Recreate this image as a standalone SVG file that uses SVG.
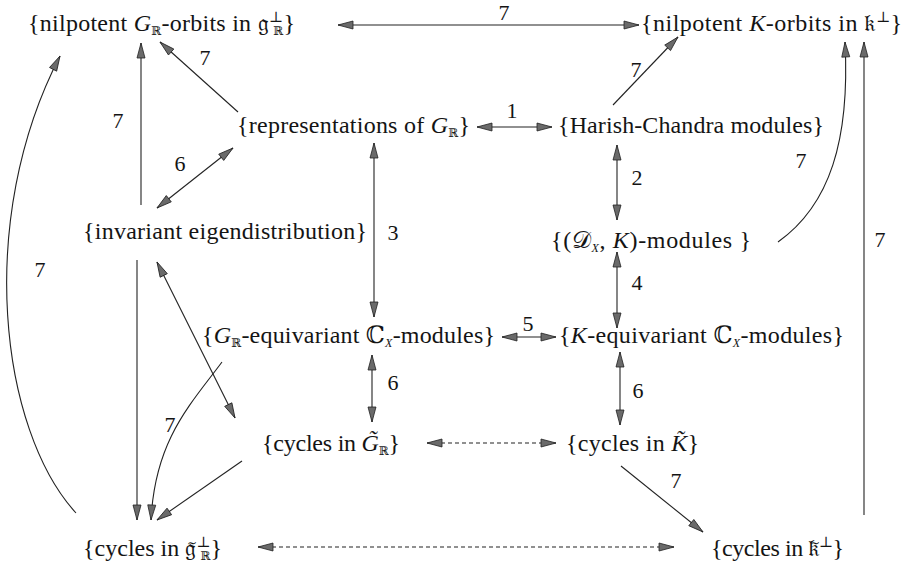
<svg xmlns="http://www.w3.org/2000/svg" width="916" height="568" viewBox="0 0 916 568">
<style>
  text { font-family: 'Liberation Serif', 'DejaVu Serif', serif; fill: #141414; }
  .t { font-size: 24px; }
  .it { font-style: italic; }
  .sub { font-size: 12px; }
  .sup { font-size: 15px; }
  .lbl { font-size: 22px; text-anchor: middle; }
  .c { fill: none; stroke: #222; stroke-width: 1.1; }
  .a { marker-end: url(#ah); }
  .aa { marker-start: url(#ah); marker-end: url(#ah); }
  .d { stroke-dasharray: 4 3; }
</style>
<defs>
  <marker id="ah" markerUnits="userSpaceOnUse" markerWidth="18" markerHeight="12" refX="15" refY="5" orient="auto-start-reverse" viewBox="-1 -1 18 12">
    <path d="M0,1 L15,5 L0,9 Z" fill="#6a6a6a" stroke="#222" stroke-width="0.8"/>
  </marker>
</defs>
<rect width="916" height="568" fill="#fff"/>

<g id="connectors">
  <line class="c aa" x1="338" y1="25" x2="639" y2="25"/>
  <line class="c a" x1="238" y1="112" x2="160" y2="42"/>
  <line class="c a" x1="141" y1="205" x2="141" y2="43"/>
  <path class="c a" d="M76,513 C0,430 -25,220 60,56"/>
  <line class="c aa" x1="233" y1="148" x2="157" y2="208"/>
  <line class="c aa" x1="374" y1="143" x2="374" y2="317"/>
  <line class="c aa" x1="477" y1="127" x2="552" y2="127"/>
  <line class="c a" x1="613" y1="105" x2="678" y2="37"/>
  <line class="c aa" x1="617" y1="145" x2="617" y2="220"/>
  <path class="c a" d="M778,242 C830,205 850,140 845,42"/>
  <line class="c a" x1="864" y1="515" x2="864" y2="42"/>
  <line class="c aa" x1="617" y1="252" x2="617" y2="328"/>
  <line class="c aa" x1="502" y1="337" x2="556" y2="337"/>
  <line class="c aa" x1="372" y1="355" x2="372" y2="422"/>
  <line class="c aa" x1="620" y1="352" x2="620" y2="425"/>
  <line class="c aa d" x1="427" y1="443" x2="556" y2="443"/>
  <line class="c aa d" x1="258" y1="547" x2="674" y2="547"/>
  <line class="c a" x1="621" y1="466" x2="703" y2="532"/>
  <line class="c a" x1="137" y1="260" x2="137" y2="520"/>
  <path class="c a" d="M222,362 C190,405 155,440 151,520"/>
  <line class="c a" x1="242" y1="461" x2="157" y2="520"/>
  <line class="c aa" x1="157" y1="262" x2="235" y2="418"/>
</g>

<g id="labels">
  <text class="lbl" x="504" y="20">7</text>
  <text class="lbl" x="205" y="65">7</text>
  <text class="lbl" x="118" y="128">7</text>
  <text class="lbl" x="40" y="277">7</text>
  <text class="lbl" x="180" y="171">6</text>
  <text class="lbl" x="393" y="240">3</text>
  <text class="lbl" x="512" y="118">1</text>
  <text class="lbl" x="636" y="77">7</text>
  <text class="lbl" x="637" y="185">2</text>
  <text class="lbl" x="801" y="168">7</text>
  <text class="lbl" x="880" y="247">7</text>
  <text class="lbl" x="637" y="290">4</text>
  <text class="lbl" x="528" y="331">5</text>
  <text class="lbl" x="393" y="390">6</text>
  <text class="lbl" x="638" y="398">6</text>
  <text class="lbl" x="676" y="488">7</text>
  <text class="lbl" x="170" y="432">7</text>
</g>

<g id="n1"><text class="t" x="28" y="31" textLength="267" lengthAdjust="spacing">{nilpotent <tspan class="it">G</tspan><tspan class="sub" dy="4">ℝ</tspan><tspan dy="-4">-orbits in 𝔤</tspan><tspan class="sup" dy="-9">⊥</tspan><tspan class="sub" dx="-10" dy="13">ℝ</tspan><tspan dy="-4">}</tspan></text></g>
<g id="n2"><text class="t" x="641" y="31" textLength="261" lengthAdjust="spacing">{nilpotent <tspan class="it">K</tspan>-orbits in 𝔨<tspan class="sup" dy="-9">⊥</tspan><tspan dy="9">}</tspan></text></g>
<g id="n3"><text class="t" x="237" y="133" textLength="233" lengthAdjust="spacing">{representations of <tspan class="it">G</tspan><tspan class="sub" dy="4">ℝ</tspan><tspan dy="-4">}</tspan></text></g>
<g id="n4"><text class="t" x="558" y="133" textLength="266" lengthAdjust="spacing">{Harish-Chandra modules}</text></g>
<g id="n5"><text class="t" x="83" y="239" textLength="284" lengthAdjust="spacing">{invariant eigendistribution}</text></g>
<g id="n6"><text class="t" x="551" y="248" textLength="200" lengthAdjust="spacing">{(𝒟<tspan class="sub it" dy="4">X</tspan><tspan dy="-4">, </tspan><tspan class="it">K</tspan>)-modules }</text></g>
<g id="n7"><text class="t" x="202" y="343" textLength="293" lengthAdjust="spacing">{<tspan class="it">G</tspan><tspan class="sub" dy="4">ℝ</tspan><tspan dy="-4">-equivariant ℂ</tspan><tspan class="sub it" dy="4">X</tspan><tspan dy="-4">-modules}</tspan></text></g>
<g id="n8"><text class="t" x="559" y="343" textLength="285" lengthAdjust="spacing">{<tspan class="it">K</tspan>-equivariant ℂ<tspan class="sub it" dy="4">X</tspan><tspan dy="-4">-modules}</tspan></text></g>
<g id="n9"><text class="t" x="262" y="451" textLength="138" lengthAdjust="spacing">{cycles in <tspan class="it">G̃</tspan><tspan class="sub" dy="4">ℝ</tspan><tspan dy="-4">}</tspan></text></g>
<g id="n10"><text class="t" x="566" y="451" textLength="133" lengthAdjust="spacing">{cycles in <tspan class="it">K̃</tspan>}</text></g>
<g id="n11"><text class="t" x="83" y="556" textLength="139" lengthAdjust="spacing">{cycles in 𝔤̃<tspan class="sup" dy="-9">⊥</tspan><tspan class="sub" dx="-10" dy="13">ℝ</tspan><tspan dy="-4">}</tspan></text></g>
<g id="n12"><text class="t" x="711" y="556" textLength="133" lengthAdjust="spacing">{cycles in 𝔨̃<tspan class="sup" dy="-9">⊥</tspan><tspan dy="9">}</tspan></text></g>
</svg>
